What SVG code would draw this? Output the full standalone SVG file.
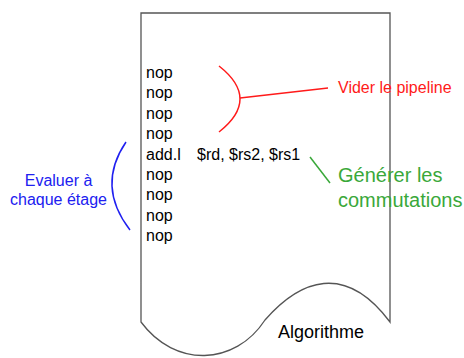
<svg xmlns="http://www.w3.org/2000/svg" width="464" height="358" viewBox="0 0 464 358">
<style>
text{font-family:"Liberation Sans",Arial,sans-serif;font-size:16px}
.k{fill:#000}
.r{fill:#ff1a1a}
.g{fill:#3aa83a;font-size:20px}
.b{fill:#2020f0}
.ln{fill:none;stroke-width:1.5}
</style>
<rect width="464" height="358" fill="#fff"/>
<g id="document">
<path d="M141,13 H390 V322 C345,262 300,280 265,320 C235,366 175,368 141,322 Z" fill="#fff" stroke="#555" stroke-width="1.3"/>
<text class="k" x="278" y="338" style="font-size:18px">Algorithme</text>
</g>
<g id="code">
<text class="k" x="146" y="78">nop</text>
<text class="k" x="146" y="98.4">nop</text>
<text class="k" x="146" y="118.8">nop</text>
<text class="k" x="146" y="139.2">nop</text>
<text class="k" x="146" y="159.6">add.l</text>
<text class="k" x="197" y="159.6">$rd, $rs2, $rs1</text>
<text class="k" x="146" y="180">nop</text>
<text class="k" x="146" y="200.4">nop</text>
<text class="k" x="146" y="220.8">nop</text>
<text class="k" x="146" y="241.2">nop</text>
</g>
<g id="vider">
<text class="r" x="338" y="93">Vider le pipeline</text>
</g>
<g id="generer">
<text class="g" x="338" y="182">Générer les</text>
<text class="g" x="338" y="207">commutations</text>
</g>
<g id="evaluer">
<text class="b" x="58.5" y="186" text-anchor="middle">Evaluer à</text>
<text class="b" x="58.5" y="205" text-anchor="middle">chaque étage</text>
</g>
<g id="connectors">
<path class="ln" d="M219,66 Q261,99 219,132" stroke="#ff1a1a"/>
<path class="ln" d="M240,98 L328,88" stroke="#ff1a1a"/>
<path class="ln" d="M310,157 L330,183" stroke="#3aa83a" stroke-width="1.2"/>
<path class="ln" d="M126,142 Q96,186 130,230" stroke="#2020f0"/>
</g>
</svg>
